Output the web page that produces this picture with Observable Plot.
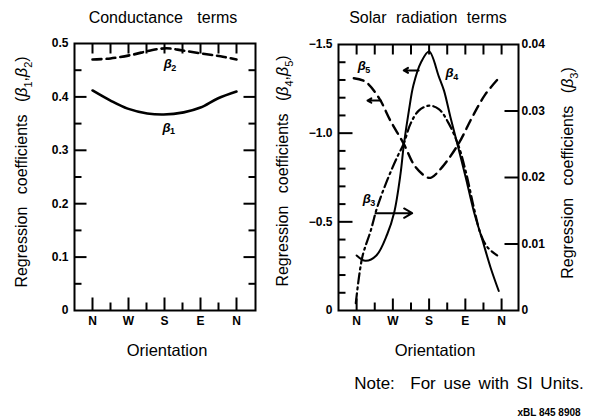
<!DOCTYPE html>
<html>
<head>
<meta charset="utf-8">
<script src="https://cdn.jsdelivr.net/npm/d3@7"></script>
<script src="https://cdn.jsdelivr.net/npm/@observablehq/plot@0.6"></script>
<style>
  body { margin: 0; background: #fff; }
  #chart { position: relative; width: 592px; height: 417px; overflow: hidden; background: #fff;
           font-family: "Liberation Sans", Arial, Helvetica, sans-serif; color: #000; }
  #chart svg { position: absolute; left: 0; top: 0; }
  .t { position: absolute; transform: translate(-50%, -50%); white-space: nowrap; font-size: 16px; line-height: 1; }
  .v { position: absolute; transform: translate(-50%, -50%) rotate(-90deg); white-space: nowrap; font-size: 16px; line-height: 1; word-spacing: 8px; }
  .v sub { font-size: 11px; }
</style>
</head>
<body>
<div id="chart"></div>
<script>
// ---------- data ----------
const dirTicks = [0, 90, 180, 270, 360];
const dirLabels = ["N", "W", "S", "E", "N"];
const dirMinor = [45, 135, 225, 315];
const dirTop = [0, 45, 90, 135, 180, 225, 270, 315, 360];

// Conductance terms
const beta1Deg = [0, 45, 88, 137, 178, 228, 270, 313, 360];
const beta1 = [0.412, 0.393, 0.378, 0.369, 0.367, 0.371, 0.380, 0.397, 0.410];
const beta2Deg = [0, 45, 100, 145, 185, 225, 275, 320, 360];
const beta2 = [0.470, 0.472, 0.479, 0.487, 0.491, 0.487, 0.481, 0.476, 0.470];
const leftYTicks = [0, 0.1, 0.2, 0.3, 0.4, 0.5];
const leftYLabels = ["0", "0.1", "0.2", "0.3", "0.4", "0.5"];
const leftYMajorInner = [0.1, 0.2, 0.3, 0.4];
const leftYMinor = [0.05, 0.15, 0.25, 0.35, 0.45];

// Solar radiation terms (left axis: beta4, beta5; right axis: beta3)
const beta4Deg = [0, 22, 49, 76, 93, 109, 117, 130, 141, 160, 180, 204, 217, 233, 250, 271, 291, 312, 333, 353];
const beta4 = [-0.31, -0.28, -0.31, -0.43, -0.55, -0.77, -0.93, -1.13, -1.27, -1.40, -1.46, -1.32, -1.24, -1.09, -0.94, -0.75, -0.56, -0.40, -0.24, -0.11];
const beta5Deg = [-7, 22, 55, 84, 117, 146, 176, 186, 213, 253, 287, 320, 353];
const beta5 = [-1.31, -1.29, -1.20, -1.07, -0.94, -0.81, -0.75, -0.75, -0.81, -0.94, -1.09, -1.22, -1.31];
const beta3Deg = [-2, 14, 35, 51, 76, 101, 117, 134, 155, 180, 204, 229, 254, 273, 291, 308, 325, 349];
const beta3 = [0.0011, 0.0080, 0.0120, 0.0155, 0.0196, 0.0231, 0.0251, 0.0281, 0.0301, 0.0308, 0.0303, 0.0281, 0.0246, 0.0204, 0.0155, 0.0115, 0.0095, 0.0083];
const solarYTicks = [0, -0.5, -1.0, -1.5];
const solarYLabels = ["0", "\u22120.5", "\u22121.0", "\u22121.5"];
const solarYMajorInner = [-0.5, -1.0];
const solarYMinor = [-0.1, -0.2, -0.3, -0.4, -0.6, -0.7, -0.8, -0.9, -1.1, -1.2, -1.3, -1.4];
const beta3Ticks = [0, 0.01, 0.02, 0.03, 0.04];
const beta3Labels = ["0", "0.01", "0.02", "0.03", "0.04"];
const beta3Inner = [0.01, 0.02, 0.03];

// curve labels (symbol + subscript) and arrows, in data units
const leftLabels = [{x: 188, y: 0.462, s: "2"}, {x: 185, y: 0.343, s: "1"}];
const solarLabels = [{x: 13, y: -1.38, s: "5"}, {x: 231, y: -1.34, s: "4"}, {x: 25, y: -0.63, s: "3"}];
const solarArrows = [
  {x1: 60, y1: -1.184, x2: 27, y2: -1.184},
  {x1: 154, y1: -1.354, x2: 117, y2: -1.354},
  {x1: 47, y1: -0.549, x2: 138, y2: -0.549}
];

// ---------- layout ----------
const W = 592, H = 417;
const FONT = '"Liberation Sans", Arial, Helvetica, sans-serif';
const L = {left: 74, right: 255, top: 43, bottom: 310, x: [-45, 407.5], y: [0, 0.5]};
const R = {left: 338, right: 518, top: 44, bottom: 310, x: [-45, 402], y: [0, -1.5]};
const K = 1.5 / 0.04; // right axis (beta3) -> left axis units

const pxX = (P, px) => px * (P.x[1] - P.x[0]) / (P.right - P.left);
const pxY = (P, px) => px * (P.y[1] - P.y[0]) / (P.bottom - P.top);

const zip = (xs, ys) => xs.map((x, i) => ({x, y: ys[i]}));
const style = {fontFamily: FONT, background: "transparent", overflow: "visible", color: "black"};
const TW = 2;
const TC = "black";

function frameTicks(P, o) {
  const [xa, xb] = P.x, [ya, yb] = P.y;
  const m = [
    Plot.link(dirTicks, {x1: d => d, x2: d => d, y1: () => ya, y2: () => ya + pxY(P, o.bMajor), stroke: TC, strokeWidth: TW}),
    Plot.link(dirMinor, {x1: d => d, x2: d => d, y1: () => ya, y2: () => ya + pxY(P, o.bMinor), stroke: TC, strokeWidth: TW}),
    Plot.link(dirTop, {x1: d => d, x2: d => d, y1: () => yb, y2: () => yb - pxY(P, o.top), stroke: TC, strokeWidth: TW}),
    Plot.link(o.lMajor, {y1: d => d, y2: d => d, x1: () => xa, x2: () => xa + pxX(P, o.lMajorLen), stroke: TC, strokeWidth: TW}),
    Plot.link(o.lMinor, {y1: d => d, y2: d => d, x1: () => xa, x2: () => xa + pxX(P, o.lMinorLen), stroke: TC, strokeWidth: TW}),
    Plot.link(o.rMajor, {y1: d => d, y2: d => d, x1: () => xb, x2: () => xb - pxX(P, o.rMajorLen), stroke: TC, strokeWidth: TW})
  ];
  if (o.rMinor.length) m.push(Plot.link(o.rMinor, {y1: d => d, y2: d => d, x1: () => xb, x2: () => xb - pxX(P, o.rMinorLen), stroke: TC, strokeWidth: TW}));
  return m;
}
function betaLabels(data) {
  return [
    Plot.text(data, {x: "x", y: "y", text: () => "\u03b2", fontSize: 13, fontWeight: "bold", fontStyle: "italic"}),
    Plot.text(data, {x: "x", y: "y", text: "s", dx: 6, dy: 4, fontSize: 9, fontWeight: "bold"})
  ];
}

const leftPlot = Plot.plot({
  width: W, height: H,
  marginLeft: L.left, marginRight: W - L.right, marginTop: L.top, marginBottom: H - L.bottom,
  x: {domain: L.x},
  y: {domain: L.y},
  style,
  marks: [
    ...frameTicks(L, {bMajor: 13, bMinor: 8, top: 10,
      lMajor: leftYMajorInner, lMajorLen: 12, lMinor: leftYMinor, lMinorLen: 7,
      rMajor: leftYMajorInner, rMajorLen: 12, rMinor: leftYMinor, rMinorLen: 7}),
    Plot.frame({stroke: "black", strokeWidth: 2}),
    Plot.axisX(dirTicks, {tickFormat: d => dirLabels[dirTicks.indexOf(d)], tickSize: 0, tickPadding: 6, fontSize: 12, fontWeight: "bold", label: null}),
    Plot.axisY(leftYTicks, {tickFormat: d => leftYLabels[leftYTicks.indexOf(d)], tickSize: 0, tickPadding: 6, fontSize: 12, fontWeight: "bold", label: null}),
    Plot.line(zip(beta1Deg, beta1), {x: "x", y: "y", curve: "catmull-rom", strokeWidth: 2.6}),
    Plot.line(zip(beta2Deg, beta2), {x: "x", y: "y", curve: "catmull-rom", strokeWidth: 2.6, strokeDasharray: "9,5"}),
    ...betaLabels(leftLabels)
  ]
});

const rightPlot = Plot.plot({
  width: W, height: H,
  marginLeft: R.left, marginRight: W - R.right, marginTop: R.top, marginBottom: H - R.bottom,
  x: {domain: R.x},
  y: {domain: R.y},
  style,
  marks: [
    ...frameTicks(R, {bMajor: 12, bMinor: 8, top: 10,
      lMajor: solarYMajorInner, lMajorLen: 14, lMinor: solarYMinor, lMinorLen: 7,
      rMajor: beta3Inner.map(r => -r * K), rMajorLen: 14, rMinor: [], rMinorLen: 0}),
    Plot.frame({stroke: "black", strokeWidth: 2}),
    Plot.axisX(dirTicks, {tickFormat: d => dirLabels[dirTicks.indexOf(d)], tickSize: 0, tickPadding: 6, fontSize: 12, fontWeight: "bold", label: null}),
    Plot.axisY(solarYTicks, {tickFormat: d => solarYLabels[solarYTicks.indexOf(d)], tickSize: 0, tickPadding: 6, fontSize: 12, fontWeight: "bold", label: null}),
    Plot.axisY(beta3Ticks.map(r => -r * K), {anchor: "right", tickFormat: d => beta3Labels[Math.round(-d / K * 100)], tickSize: 0, tickPadding: 3, fontSize: 12, fontWeight: "bold", label: null}),
    Plot.line(zip(beta5Deg, beta5), {x: "x", y: "y", curve: "catmull-rom", strokeWidth: 2.4, strokeDasharray: "10,6"}),
    Plot.line(zip(beta3Deg, beta3.map(r => -r * K)), {x: "x", y: "y", curve: "catmull-rom", strokeWidth: 2.2, strokeDasharray: "10,4,2,4"}),
    Plot.line(zip(beta4Deg, beta4), {x: "x", y: "y", curve: "catmull-rom", strokeWidth: 2}),
    Plot.arrow(solarArrows, {x1: "x1", y1: "y1", x2: "x2", y2: "y2", strokeWidth: 2, headLength: 7}),
    ...betaLabels(solarLabels)
  ]
});

const chart = document.getElementById("chart");
chart.appendChild(leftPlot);
chart.appendChild(rightPlot);

const texts = [
  {cls: "t", x: 163, y: 18, html: "<span style='word-spacing:10px'>Conductance terms</span>"},
  {cls: "t", x: 428, y: 18, html: "<span style='word-spacing:5px'>Solar radiation terms</span>"},
  {cls: "t", x: 167, y: 350, html: "<span style='font-size:16.5px'>Orientation</span>"},
  {cls: "t", x: 435, y: 350, html: "<span style='font-size:16.5px'>Orientation</span>"},
  {cls: "v", x: 24, y: 172, html: "Regression coefficients (<i>\u03b2</i><sub>1</sub>,<i>\u03b2</i><sub>2</sub>)"},
  {cls: "v", x: 285, y: 171, html: "Regression coefficients (<i>\u03b2</i><sub>4</sub>,<i>\u03b2</i><sub>5</sub>)"},
  {cls: "v", x: 570, y: 173, html: "Regression coefficients (<i>\u03b2</i><sub>3</sub>)"},
  {cls: "t", x: 469, y: 383, html: "<span style='font-size:17px;word-spacing:3px'>Note:&nbsp; For use with SI Units.</span>"},
  {cls: "t", x: 549, y: 411, html: "<b style='font-size:10px'>xBL 845 8908</b>"}
];
for (const d of texts) {
  const el = document.createElement("div");
  el.className = d.cls;
  el.style.left = d.x + "px";
  el.style.top = d.y + "px";
  el.innerHTML = d.html;
  chart.appendChild(el);
}
</script>
</body>
</html>
